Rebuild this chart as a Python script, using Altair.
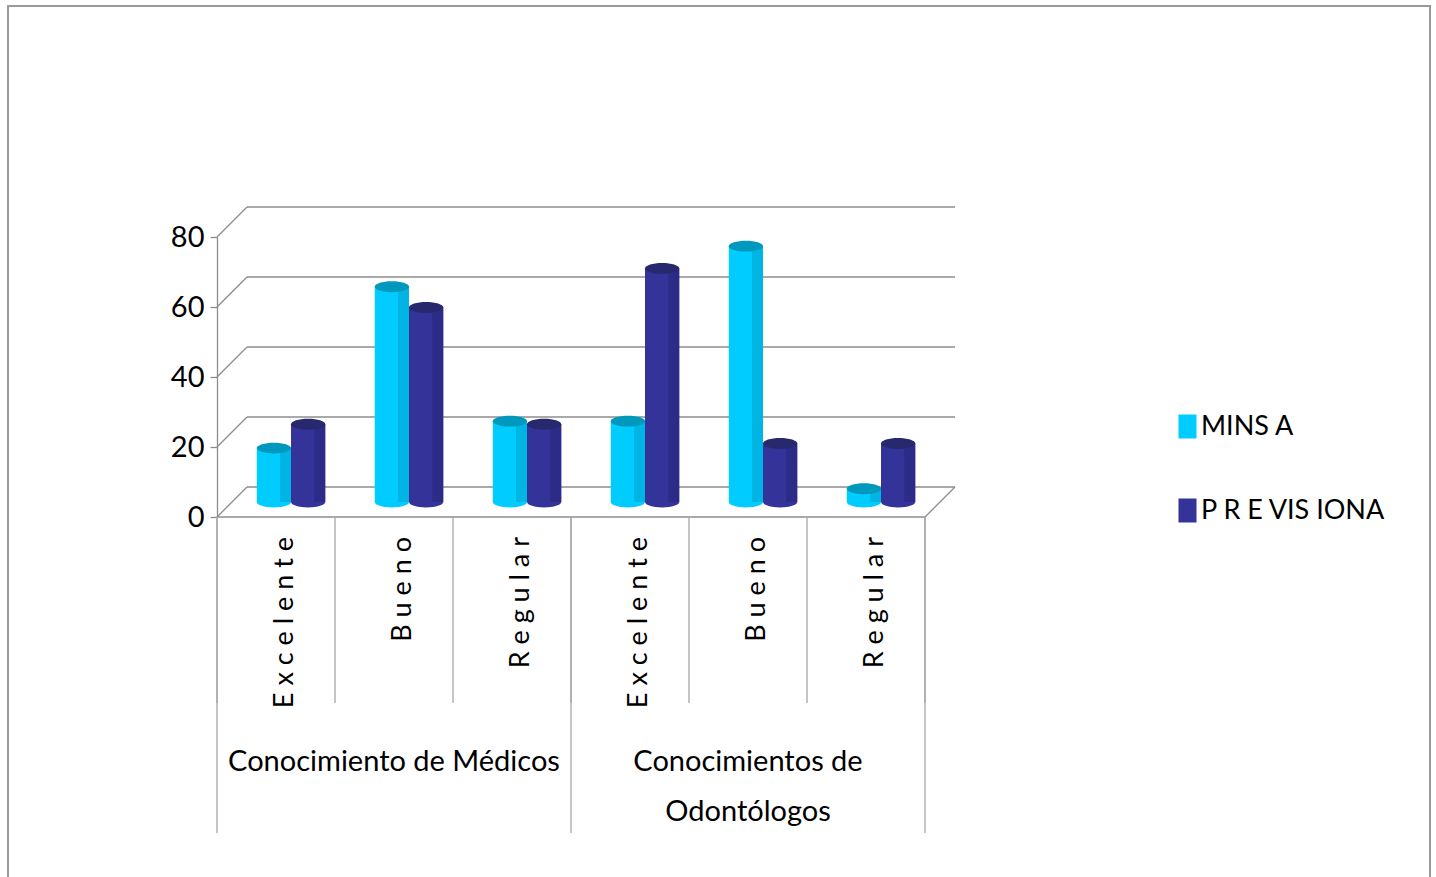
import altair as alt
import pandas as pd

# ---------------- data ----------------
grupos = ["Conocimiento de Médicos", "Conocimientos de\nOdontólogos"]
categorias = ["E x c e l e n t e", "B u e n o", "R e g u l a r"]
series = ["MINS A", "P R E VIS IONA"]
minsa = [15.4, 61.5, 23.1, 23.1, 73.1, 3.8]
previsiona = [22.2, 55.6, 22.2, 66.7, 16.7, 16.7]
marcas_y = [0, 20, 40, 60, 80]

# ---------------- palette ----------------
cuerpo = ["#00CCFF", "#333399"]
sombra = ["#00B4E4", "#2C2C88"]
tapa = ["#0098BC", "#28286E"]
GRIS = "#8c8c8c"
FONT = "Lato"

PROF = 30          # depth of the 3-D box (px)
MED = PROF / 2     # cylinders stand at mid depth
ANCHO = 0.29       # cylinder width in category units
ELIPSE = "M-1,0A1,0.32,0,1,0,1,0A1,0.32,0,1,0,-1,0Z"

W, H = 708, 280
xs = alt.Scale(domain=[0, 6], nice=False, zero=False)
ys = alt.Scale(domain=[0, 80], nice=False, zero=False)

# the one value axis, shared by every layer that positions on y
eje_y = alt.Axis(values=marcas_y, tickSize=7, tickColor=GRIS, domainColor=GRIS,
                 domainWidth=1.3, tickWidth=1.3, labelFontSize=29, labelColor="black",
                 labelFont=FONT, labelPadding=6, grid=False, title=None)

# long table: one row per cylinder
filas = []
for i in range(6):
    for s, vals in enumerate([minsa, previsiona]):
        filas.append({"idx": i, "s": s, "serie": series[s], "valor": vals[i],
                      "cuerpo": cuerpo[s], "sombra": sombra[s], "tapa": tapa[s]})
barras = pd.DataFrame(filas)

cats = pd.DataFrame({"idx": list(range(6)),
                     "categoria": [categorias[i % 3] for i in range(6)]})
grp = pd.DataFrame({"g": [0, 1], "grupo": grupos})
ticks = pd.DataFrame({"t": marcas_y})
bordes = pd.DataFrame({"b": list(range(7))})
uno = pd.DataFrame({"k": [0]})

base_b = alt.Chart(barras).transform_calculate(
    x0=f"datum.idx + 0.21 + {ANCHO} * datum.s",
).transform_calculate(
    x1=f"datum.x0 + {ANCHO}",
    xc=f"datum.x0 + {ANCHO / 2}",
    xsh=f"datum.x0 + {ANCHO * 0.68}",
)

# outer frame
marco = alt.Chart(uno).mark_rect(fillOpacity=0, stroke="#9a9a9a", strokeWidth=2).encode(
    x=alt.value(-209), x2=alt.value(1213), y=alt.value(-231), y2=alt.value(700)
)

# back wall gridlines
pared = alt.Chart(ticks).mark_rule(color=GRIS, strokeWidth=1.3, xOffset=PROF, x2Offset=PROF,
                                    yOffset=-PROF).encode(
    x=alt.X(datum=0, type="quantitative", scale=xs, axis=None),
    x2=alt.X2(datum=6),
    y=alt.Y("t:Q", scale=ys, axis=eje_y),
)

# side-wall diagonals
diag = alt.Chart(ticks).mark_rule(color=GRIS, strokeWidth=1.3, x2Offset=PROF, y2Offset=-PROF).encode(
    x=alt.X(datum=0, type="quantitative", scale=xs, axis=None),
    x2=alt.X2(datum=0),
    y=alt.Y("t:Q", scale=ys, axis=eje_y),
    y2=alt.Y2("t:Q"),
)

# floor: front edge and right diagonal
frente = alt.Chart(uno).mark_rule(color=GRIS, strokeWidth=1.3).encode(
    x=alt.X(datum=0, type="quantitative", scale=xs, axis=None),
    x2=alt.X2(datum=6),
    y=alt.Y(datum=0, type="quantitative", scale=ys, axis=eje_y),
)
diag_der = alt.Chart(uno).mark_rule(color=GRIS, strokeWidth=1.3, x2Offset=PROF, y2Offset=-PROF).encode(
    x=alt.X(datum=6, type="quantitative", scale=xs, axis=None),
    x2=alt.X2(datum=6),
    y=alt.Y(datum=0, type="quantitative", scale=ys, axis=eje_y),
    y2=alt.Y2(datum=0),
)

# category separators below the floor
sep_menor = alt.Chart(bordes).mark_rule(color="#a6a6a6", strokeWidth=1.3).encode(
    x=alt.X("b:Q", scale=xs, axis=None),
    y=alt.value(H), y2=alt.value(H + 186),
)
sep_mayor = alt.Chart(bordes).transform_filter("datum.b % 3 == 0").mark_rule(
    color="#a6a6a6", strokeWidth=1.3).encode(
    x=alt.X("b:Q", scale=xs, axis=None),
    y=alt.value(H), y2=alt.value(H + 316),
)

# cylinder bottoms
fondo = base_b.mark_point(shape=ELIPSE, size=1170, filled=True, opacity=1, strokeWidth=0,
                          xOffset=MED, yOffset=-MED).encode(
    x=alt.X("xc:Q", scale=xs, axis=None),
    y=alt.Y(datum=0, type="quantitative", scale=ys, axis=eje_y),
    fill=alt.Fill("cuerpo:N", scale=None),
)

# cylinder bodies
cuerpos = base_b.mark_bar(xOffset=MED, x2Offset=MED, yOffset=-MED, y2Offset=-MED).encode(
    x=alt.X("x0:Q", scale=xs, axis=None),
    x2="x1:Q",
    y=alt.Y("valor:Q", scale=ys, axis=eje_y),
    y2=alt.Y2(datum=0),
    color=alt.Color("serie:N", scale=alt.Scale(domain=series, range=cuerpo),
                    legend=alt.Legend(orient="none", legendX=957, legendY=176, title=None,
                                      symbolType="M-0.75,-1H0.75V1H-0.75Z", symbolSize=576,
                                      symbolStrokeWidth=0, labelFontSize=27, labelFont=FONT,
                                      labelColor="black", labelOffset=0, rowPadding=56,
                                      labelLimit=400, padding=0)),
)

# shaded right side of each cylinder
sombras = base_b.mark_bar(xOffset=MED, x2Offset=MED, yOffset=-MED, y2Offset=-MED).encode(
    x=alt.X("xsh:Q", scale=xs, axis=None),
    x2="x1:Q",
    y=alt.Y("valor:Q", scale=ys, axis=eje_y),
    y2=alt.Y2(datum=0),
    fill=alt.Fill("sombra:N", scale=None),
)

# cylinder tops
tapas = base_b.mark_point(shape=ELIPSE, size=1170, filled=True, opacity=1, strokeWidth=0,
                          xOffset=MED, yOffset=-MED).encode(
    x=alt.X("xc:Q", scale=xs, axis=None),
    y=alt.Y("valor:Q", scale=ys, axis=eje_y),
    fill=alt.Fill("tapa:N", scale=None),
)

# rotated category labels
etiquetas = alt.Chart(cats).transform_calculate(pos="datum.idx + 0.5").mark_text(
    angle=270, align="right", baseline="middle", fontSize=27, font=FONT, color="black",
    xOffset=9).encode(
    x=alt.X("pos:Q", scale=xs, axis=None),
    y=alt.value(300),
    text="categoria:N",
)

# group labels
grupos_txt = alt.Chart(grp).transform_calculate(pos="datum.g * 3 + 1.5").mark_text(
    align="center", baseline="alphabetic", fontSize=29, font=FONT, color="black",
    lineBreak="\n", lineHeight=50).encode(
    x=alt.X("pos:Q", scale=xs, axis=None),
    y=alt.value(534),
    text="grupo:N",
)

chart = alt.layer(
    marco, pared, diag, frente, diag_der, sep_menor, sep_mayor,
    fondo, cuerpos, sombras, tapas, etiquetas, grupos_txt,
).properties(
    width=W, height=H,
    autosize=alt.AutoSizeParams(type="none"),
    padding={"left": 217, "top": 237, "right": 511, "bottom": 360},
).configure(font=FONT, background="white").configure_view(stroke=None)

chart.save("out.html", embed_options={"renderer": "svg", "actions": False})
